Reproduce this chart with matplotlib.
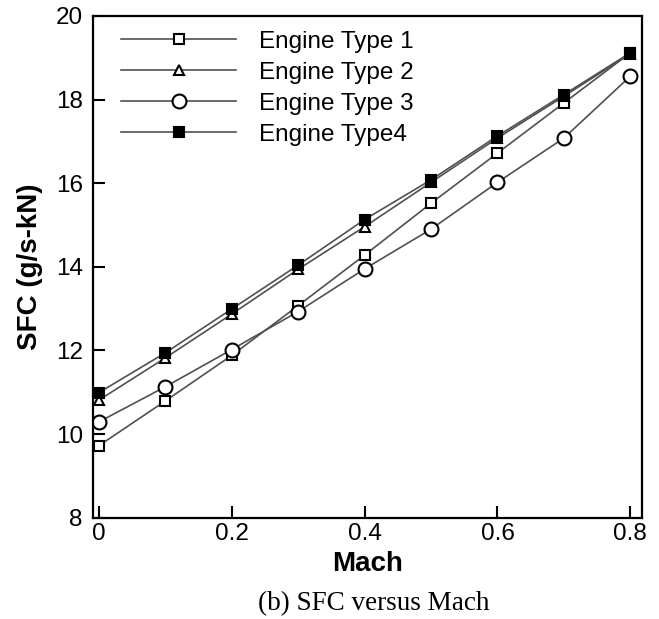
import numpy as np
import matplotlib
matplotlib.use("Agg")
import matplotlib.pyplot as plt

# SFC vs Mach for the four engine types
mach = [0.0, 0.1, 0.2, 0.3, 0.4, 0.5, 0.6, 0.7, 0.8]
sfc_type1 = [9.72, 10.79, 11.88, 13.07, 14.28, 15.52, 16.72, 17.92, 19.12]
sfc_type2 = [10.81, 11.82, 12.87, 13.94, 14.96, 16.02, 17.08, 18.08, 19.10]
sfc_type3 = [10.29, 11.13, 12.02, 12.93, 13.95, 14.90, 16.02, 17.08, 18.56]
sfc_type4 = [10.99, 11.94, 12.99, 14.04, 15.13, 16.08, 17.13, 18.12, 19.12]

labels = ["Engine Type 1", "Engine Type 2", "Engine Type 3", "Engine Type4"]
x_ticks = [0, 0.2, 0.4, 0.6, 0.8]
x_ticklabels = ["0", "0.2", "0.4", "0.6", "0.8"]
y_ticks = [8, 10, 12, 14, 16, 18, 20]

plt.rcParams['font.family'] = ['Liberation Sans', 'DejaVu Sans']

fig = plt.figure(figsize=(6.59, 6.19), dpi=100)
ax = fig.add_axes([0.1404, 0.1636, 0.8333, 0.8106])

line_col = "#505050"
styles = [
    dict(marker="s", markersize=6.5, markerfacecolor="white"),
    dict(marker="^", markersize=7.5, markerfacecolor="white"),
    dict(marker="o", markersize=10, markerfacecolor="white"),
    dict(marker="s", markersize=6.5, markerfacecolor="black"),
]
series = [sfc_type1, sfc_type2, sfc_type3, sfc_type4]

for vals, lab, st in zip(series, labels, styles):
    ax.plot(mach, vals, color=line_col, linewidth=1.2,
            markeredgecolor="black", markeredgewidth=1.5,
            label=lab, **st)

ax.set_xlim(-0.0093, 0.817)
ax.set_ylim(8, 20)
ax.set_xticks(x_ticks)
ax.set_xticklabels(x_ticklabels)
ax.set_yticks(y_ticks)

ax.tick_params(direction="in", length=8.5, width=1.5, labelsize=17.5,
               top=False, right=False)
ax.tick_params(axis="y", pad=7)
ax.tick_params(axis="x", pad=4)
for sp in ax.spines.values():
    sp.set_linewidth(1.6)

ax.set_xlabel("Mach", fontsize=20, fontweight="bold", labelpad=4)
ax.set_ylabel("SFC (g/s-kN)", fontsize=20, fontweight="bold", labelpad=9)

leg = ax.legend(loc="upper left", bbox_to_anchor=(0.035, 0.99), frameon=False,
                fontsize=17.5, handlelength=4.7, handletextpad=0.95,
                labelspacing=0.37, borderaxespad=0)

fig.text(0.567, 0.015, "(b) SFC versus Mach", ha="center", va="baseline",
         fontsize=19.5, family=["Liberation Serif", "DejaVu Serif"])

fig.savefig("out.png", dpi=100)
